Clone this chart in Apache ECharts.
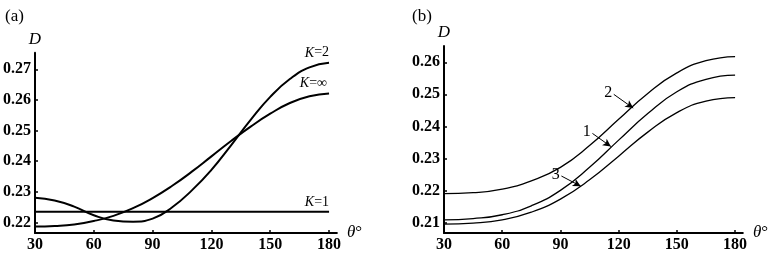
<!DOCTYPE html>
<html>
<head>
<meta charset="utf-8">
<script src="https://cdn.jsdelivr.net/npm/echarts@6/dist/echarts.min.js"></script>
<style>
  html, body { margin: 0; padding: 0; background: #fff; }
  #chart { width: 771px; height: 253px; }
</style>
</head>
<body>
<div id="chart"></div>
<script>
// panel (a)
var thetaA = [30, 40, 50, 60, 70, 80, 90, 100, 110, 120, 130, 140, 150, 160, 170, 180];
var dK2 = [0.2281, 0.2272, 0.2252, 0.2224, 0.2207, 0.2203, 0.2213, 0.2250, 0.2305, 0.2372, 0.2452, 0.2535, 0.2610, 0.2668, 0.2706, 0.2721];
var dKinf = [0.2187, 0.2189, 0.2194, 0.2205, 0.2222, 0.2247, 0.2280, 0.2320, 0.2366, 0.2416, 0.2466, 0.2513, 0.2555, 0.2590, 0.2612, 0.2621];
var dK1 = [0.2235, 0.2235, 0.2235, 0.2235, 0.2235, 0.2235, 0.2235, 0.2235, 0.2235, 0.2235, 0.2235, 0.2235, 0.2235, 0.2235, 0.2235, 0.2235];
var yTicksA = [0.22, 0.23, 0.24, 0.25, 0.26, 0.27];

// panel (b)
var thetaB = [30, 45, 60, 75, 90, 105, 120, 135, 150, 165, 180];
var dCurve1 = [0.2108, 0.2112, 0.2124, 0.2152, 0.2200, 0.2272, 0.2357, 0.2440, 0.2508, 0.2547, 0.2560];
var dCurve2 = [0.2190, 0.2193, 0.2204, 0.2230, 0.2272, 0.2340, 0.2422, 0.2503, 0.2567, 0.2605, 0.2618];
var dCurve3 = [0.2095, 0.2098, 0.2108, 0.2132, 0.2173, 0.2233, 0.2307, 0.2382, 0.2443, 0.2479, 0.2490];
var yTicksB = [0.21, 0.22, 0.23, 0.24, 0.25, 0.26];

var xTicks = [30, 60, 90, 120, 150, 180];

var serif = 'Liberation Serif';

function pairs(xs, ys) {
  return xs.map(function (x, i) { return [x, ys[i]]; });
}

function xAxisOpt(idx) {
  return {
    type: 'value', gridIndex: idx, min: 30, max: 184,
    name: '{t|θ}°', nameLocation: 'end', nameGap: 6,
    nameTextStyle: {
      fontFamily: serif, fontSize: 17, color: '#000',
      rich: { t: { fontFamily: serif, fontStyle: 'italic', fontSize: 17, color: '#000' } }
    },
    axisLine: { lineStyle: { color: '#000', width: 2 } },
    axisTick: { inside: true, length: 3, customValues: xTicks, lineStyle: { color: '#000', width: 1.5 } },
    axisLabel: {
      customValues: xTicks, margin: 4,
      fontFamily: serif, fontWeight: 'bold', fontSize: 16, color: '#000'
    },
    splitLine: { show: false }
  };
}

function yAxisOpt(idx, lo, hi, ticks) {
  return {
    type: 'value', gridIndex: idx, min: lo, max: hi,
    name: 'D', nameLocation: 'end', nameGap: 5,
    nameTextStyle: { fontFamily: serif, fontStyle: 'italic', fontSize: 17, color: '#000' },
    axisLine: { lineStyle: { color: '#000', width: 2 } },
    axisTick: { inside: true, length: 3, customValues: ticks, lineStyle: { color: '#000', width: 1.5 } },
    axisLabel: {
      customValues: ticks, margin: 4,
      formatter: function (v) { return v.toFixed(2); },
      fontFamily: serif, fontWeight: 'bold', fontSize: 16, color: '#000'
    },
    splitLine: { show: false }
  };
}

function curveA(data, tag, off) {
  return {
    type: 'line', xAxisIndex: 0, yAxisIndex: 0,
    data: data, smooth: 0.5, showSymbol: false,
    lineStyle: { color: '#000', width: 2 },
    markPoint: {
      symbol: 'circle', symbolSize: 0,
      data: [{ coord: data[data.length - 1] }],
      label: {
        show: true, position: off, align: 'right', verticalAlign: 'bottom',
        formatter: '{k|K}=' + tag,
        fontFamily: serif, fontSize: 14, color: '#000',
        rich: { k: { fontFamily: serif, fontStyle: 'italic', fontSize: 14, color: '#000' } }
      }
    }
  };
}

function curveB(data, tag, from, to) {
  return {
    type: 'line', xAxisIndex: 1, yAxisIndex: 1,
    data: data, smooth: 0.5, showSymbol: false,
    lineStyle: { color: '#000', width: 1.3 },
    markLine: {
      silent: true, symbol: ['none', 'arrow'], symbolSize: [6, 8],
      lineStyle: { color: '#000', width: 1, type: 'solid' },
      label: { show: true, position: 'start', distance: 2, formatter: tag, fontFamily: serif, fontSize: 16, color: '#000' },
      data: [[{ coord: from }, { coord: to }]]
    }
  };
}

var chart = echarts.init(document.getElementById('chart'));
var option = {
  animation: false,
  backgroundColor: '#fff',
  title: [
    { text: '(a)', left: 0, top: 3, textStyle: { fontFamily: serif, fontWeight: 'normal', fontSize: 17, color: '#000' } },
    { text: '(b)', left: 407, top: 3, textStyle: { fontFamily: serif, fontWeight: 'normal', fontSize: 17, color: '#000' } }
  ],
  grid: [
    { left: 33.5, top: 52.7, width: 303.4, height: 180.6 },
    { left: 444, top: 46, width: 303.8, height: 190.7 }
  ],
  xAxis: [xAxisOpt(0), xAxisOpt(1)],
  yAxis: [yAxisOpt(0, 0.2166, 0.2754, yTicksA), yAxisOpt(1, 0.2067, 0.2651, yTicksB)],
  series: [
    curveA(pairs(thetaA, dK2), '2', [0, -3]),
    curveA(pairs(thetaA, dKinf), '∞', [-2, -3]),
    curveA(pairs(thetaA, dK1), '1', [0, -3]),
    curveB(pairs(thetaB, dCurve2), '2', [117.5, 0.2500], [127.5, 0.2457]),
    curveB(pairs(thetaB, dCurve1), '1', [106.5, 0.2378], [116, 0.2337]),
    curveB(pairs(thetaB, dCurve3), '3', [90.5, 0.2245], [100.5, 0.2213])
  ]
};
chart.setOption(option);
</script>
</body>
</html>
